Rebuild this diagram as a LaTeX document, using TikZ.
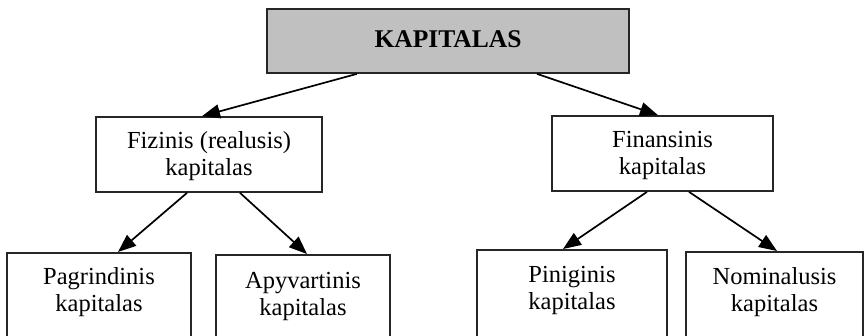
\documentclass[tikz,border=0pt]{standalone}
\usepackage{fontspec}
\setmainfont{Liberation Serif}
\usetikzlibrary{arrows.meta,calc}
\definecolor{topgray}{HTML}{C0C0C0}
\tikzset{
  box/.style={draw=black!85, line width=1.7pt, rectangle, inner sep=0pt},
  txt/.style={align=center, font=\fontsize{24.5}{27}\selectfont, inner sep=0pt},
  conn/.style={line width=1.7pt, -{Triangle[length=18pt,width=14pt]}}
}
\begin{document}
\begin{tikzpicture}[x=1pt,y=-1pt]
\path[use as bounding box] (0,0) rectangle (864,335);
\clip (0,0) rectangle (864,335);
% top
\node[box, fill=topgray, minimum width=362pt, minimum height=64pt] (top) at (448,41) {};
\node[txt, font=\fontsize{25.5}{27}\selectfont\bfseries] (topt) at (448,39) {KAPITALAS};
% level 2
\node[box, fill=white, minimum width=226pt, minimum height=75pt] (fiz) at (209,154.5) {};
\node[txt] (fizt) at (209,156) {Fizinis (realusis)\\kapitalas};
\node[box, fill=white, minimum width=221pt, minimum height=75pt] (fin) at (662.5,153.5) {};
\node[txt] (fint) at (662.5,155) {Finansinis\\kapitalas};
% level 3
\node[box, anchor=north, minimum width=184pt, minimum height=120pt] (pag) at (99,252) {};
\node[txt] (pagt) at (99,292.5) {Pagrindinis\\kapitalas};
\node[box, anchor=north, minimum width=174pt, minimum height=120pt] (apy) at (303,254) {};
\node[txt] (apyt) at (303,296.5) {Apyvartinis\\kapitalas};
\node[box, anchor=north, minimum width=190pt, minimum height=120pt] (pin) at (572,249) {};
\node[txt] (pint) at (572,290.5) {Piniginis\\kapitalas};
\node[box, anchor=north, minimum width=177pt, minimum height=120pt] (nom) at (774.5,251) {};
\node[txt] (nomt) at (774.5,292.5) {Nominalusis\\kapitalas};
% connectors
\draw[conn] ([xshift=-91pt]top.south) -- ([xshift=-7pt]fiz.north);
\draw[conn] ([xshift=89pt]top.south) -- ([xshift=-4.5pt]fin.north);
\draw[conn] ([xshift=-22pt]fiz.south) -- ([xshift=19pt]pag.north);
\draw[conn] ([xshift=31pt]fiz.south) -- ([xshift=4pt]apy.north);
\draw[conn] ([xshift=-15.5pt]fin.south) -- ([xshift=-9pt]pin.north);
\draw[conn] ([xshift=26.5pt]fin.south) -- ([xshift=2.5pt]nom.north);
\end{tikzpicture}
\end{document}
